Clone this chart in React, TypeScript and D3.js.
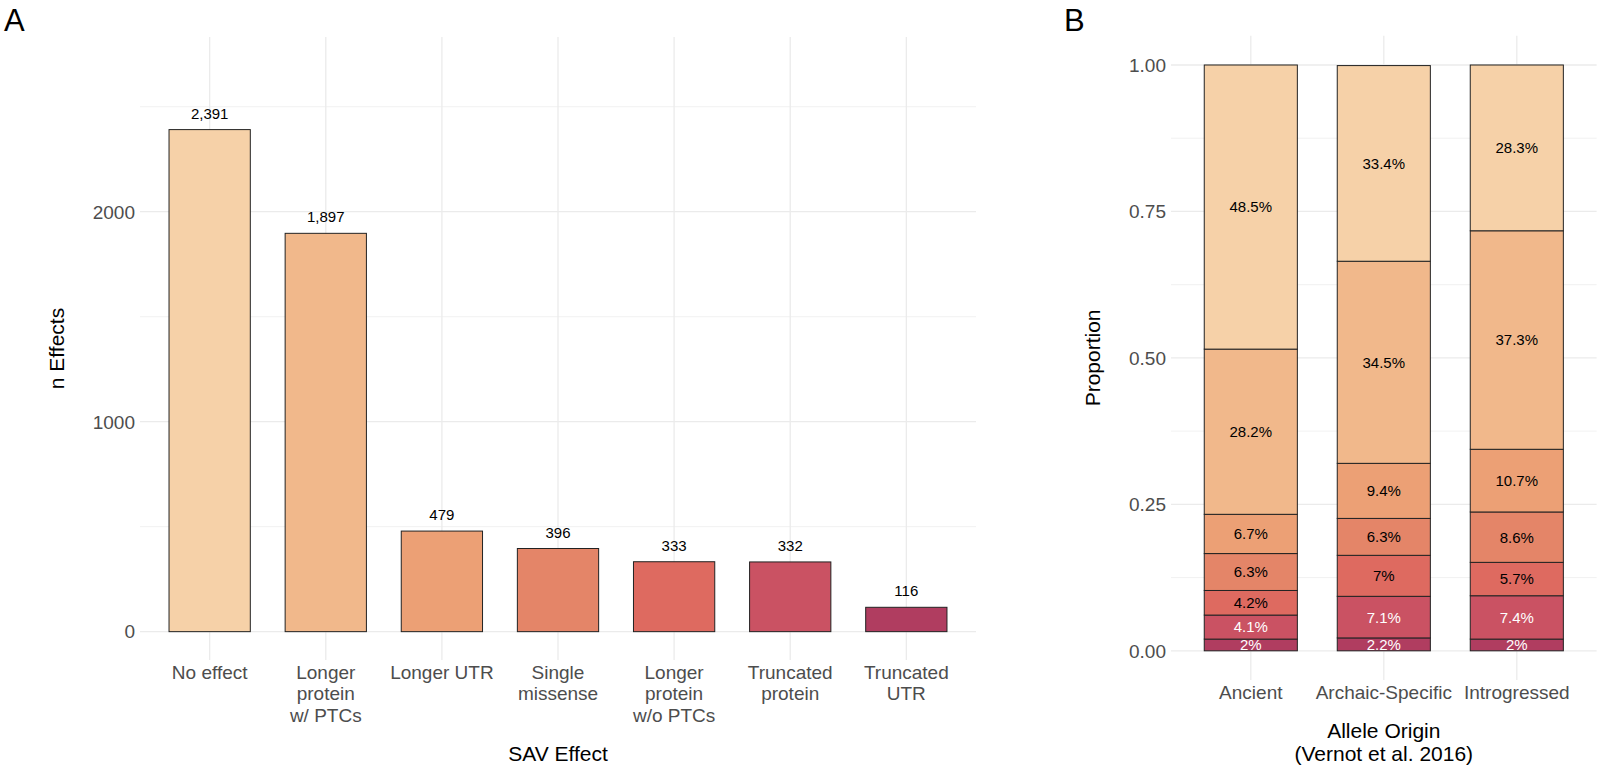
import React from "react";
import * as d3 from "d3";

// ---------- Data ----------
const effects = [
  "No effect",
  "Longer protein w/ PTCs",
  "Longer UTR",
  "Single missense",
  "Longer protein w/o PTCs",
  "Truncated protein",
  "Truncated UTR",
];
const effectLabelLines = [
  ["No effect"],
  ["Longer", "protein", "w/ PTCs"],
  ["Longer UTR"],
  ["Single", "missense"],
  ["Longer", "protein", "w/o PTCs"],
  ["Truncated", "protein"],
  ["Truncated", "UTR"],
];
const counts = [2391, 1897, 479, 396, 333, 332, 116];
const effectColors = ["#F6D1A8", "#F1B88B", "#ECA075", "#E48568", "#DE6A60", "#CA5263", "#B03D60"];
const whiteLabelEffects = ["Truncated protein", "Truncated UTR"];

const countTicks = [0, 1000, 2000];
const countMinorTicks = [500, 1500, 2500];

const origins = ["Ancient", "Archaic-Specific", "Introgressed"];
// percentages per effect, in the order of `effects`
const ancientPct = [48.5, 28.2, 6.7, 6.3, 4.2, 4.1, 2];
const archaicPct = [33.4, 34.5, 9.4, 6.3, 7, 7.1, 2.2];
const introgressedPct = [28.3, 37.3, 10.7, 8.6, 5.7, 7.4, 2];
const propTicks = [0, 0.25, 0.5, 0.75, 1];
const propTickLabels = ["0.00", "0.25", "0.50", "0.75", "1.00"];
const propMinorTicks = [0.125, 0.375, 0.625, 0.875];

const FONT = "'Liberation Sans', Arial, Helvetica, sans-serif";
const GRID = "#EBEBEB";
const TICK_TEXT = "#4D4D4D";

export default function App() {
  // ---------- Panel A ----------
  const ax = d3.scaleBand<string>().domain(effects).range([140, 976]).paddingInner(0.3).paddingOuter(0.25);
  const ay = d3.scaleLinear().domain([-135, 2832]).range([660, 37]);
  const fmt = d3.format(",");

  // ---------- Panel B ----------
  const bx = d3.scaleBand<string>().domain(origins).range([1171, 1596.6]).paddingInner(0.3).paddingOuter(0.25);
  const by = d3.scaleLinear().domain([-0.05, 1.05]).range([680.1, 35.7]);
  const pctSets = [ancientPct, archaicPct, introgressedPct];
  const rows = origins.map((o, i) => {
    const r: any = { origin: o };
    effects.forEach((e, j) => (r[e] = pctSets[i][j] / 100));
    return r;
  });
  const stackKeys = effects.slice().reverse();
  const series = d3.stack<any>().keys(stackKeys)(rows);

  const aTop = 37, aBot = 660, bTop = 35.7, bBot = 680.1;

  return (
    <svg
      width={1602}
      height={770}
      style={{ position: "absolute", left: 0, top: 0, background: "#fff" }}
      fontFamily={FONT}
    >
      <rect x={0} y={0} width={1602} height={770} fill="#fff" />
      {/* Panel tags */}
      <text x={4} y={31} fontSize={31} fill="#000">A</text>
      <text x={1064} y={31} fontSize={31} fill="#000">B</text>

      {/* ===== Panel A grid ===== */}
      <g>
        {countMinorTicks.map((t) => (
          <line key={"am" + t} x1={140} x2={976} y1={ay(t)} y2={ay(t)} stroke={GRID} strokeWidth={0.7} />
        ))}
        {countTicks.map((t) => (
          <line key={"aM" + t} x1={140} x2={976} y1={ay(t)} y2={ay(t)} stroke={GRID} strokeWidth={1.3} />
        ))}
        {effects.map((e) => (
          <line
            key={"av" + e}
            x1={ax(e)! + ax.bandwidth() / 2}
            x2={ax(e)! + ax.bandwidth() / 2}
            y1={aTop}
            y2={aBot}
            stroke={GRID}
            strokeWidth={1.3}
          />
        ))}
      </g>
      {/* Panel A bars */}
      <g>
        {effects.map((e, i) => (
          <rect
            key={"ab" + e}
            x={ax(e)}
            y={ay(counts[i])}
            width={ax.bandwidth()}
            height={ay(0) - ay(counts[i])}
            fill={effectColors[i]}
            stroke="#222"
            strokeWidth={1}
          />
        ))}
        {effects.map((e, i) => (
          <text
            key={"al" + e}
            x={ax(e)! + ax.bandwidth() / 2}
            y={ay(counts[i]) - 11}
            textAnchor="middle"
            fontSize={15}
            fill="#000"
          >
            {fmt(counts[i])}
          </text>
        ))}
      </g>
      {/* Panel A axes */}
      <g>
        {countTicks.map((t) => (
          <text key={"at" + t} x={135} y={ay(t)} dy="0.36em" textAnchor="end" fontSize={19} fill={TICK_TEXT}>
            {t}
          </text>
        ))}
        {effects.map((e, i) => (
          <text key={"ac" + e} x={ax(e)! + ax.bandwidth() / 2} y={678.5} textAnchor="middle" fontSize={19} fill={TICK_TEXT}>
            {effectLabelLines[i].map((ln, k) => (
              <tspan key={k} x={ax(e)! + ax.bandwidth() / 2} dy={k === 0 ? 0 : 21.7}>
                {ln}
              </tspan>
            ))}
          </text>
        ))}
        <text x={558} y={761} textAnchor="middle" fontSize={21} fill="#000">SAV Effect</text>
        <text
          transform={`translate(64, ${(aTop + aBot) / 2}) rotate(-90)`}
          textAnchor="middle"
          fontSize={21}
          fill="#000"
        >
          n Effects
        </text>
      </g>

      {/* ===== Panel B grid ===== */}
      <g>
        {propMinorTicks.map((t) => (
          <line key={"bm" + t} x1={1171} x2={1596.6} y1={by(t)} y2={by(t)} stroke={GRID} strokeWidth={0.7} />
        ))}
        {propTicks.map((t) => (
          <line key={"bM" + t} x1={1171} x2={1596.6} y1={by(t)} y2={by(t)} stroke={GRID} strokeWidth={1.3} />
        ))}
        {origins.map((o) => (
          <line
            key={"bv" + o}
            x1={bx(o)! + bx.bandwidth() / 2}
            x2={bx(o)! + bx.bandwidth() / 2}
            y1={bTop}
            y2={bBot}
            stroke={GRID}
            strokeWidth={1.3}
          />
        ))}
      </g>
      {/* Panel B stacked bars */}
      <g>
        {series.map((s) => {
          const ci = effects.indexOf(s.key);
          return (
            <g key={"bs" + s.key}>
              {s.map((d, i) => (
                <rect
                  key={i}
                  x={bx(d.data.origin)}
                  y={by(d[1])}
                  width={bx.bandwidth()}
                  height={by(d[0]) - by(d[1])}
                  fill={effectColors[ci]}
                  stroke="#222"
                  strokeWidth={1}
                />
              ))}
            </g>
          );
        })}
        {series.map((s) => {
          const white = whiteLabelEffects.includes(s.key);
          return (
            <g key={"bl" + s.key}>
              {s.map((d, i) => (
                <text
                  key={i}
                  x={bx(d.data.origin)! + bx.bandwidth() / 2}
                  y={by((d[0] + d[1]) / 2)}
                  dy="0.36em"
                  textAnchor="middle"
                  fontSize={15}
                  fill={white ? "#fff" : "#000"}
                >
                  {`${d3.format(".3~")(Math.round((d[1] - d[0]) * 1000) / 10)}%`}
                </text>
              ))}
            </g>
          );
        })}
      </g>
      {/* Panel B axes */}
      <g>
        {propTicks.map((t, i) => (
          <text key={"bt" + t} x={1166} y={by(t)} dy="0.36em" textAnchor="end" fontSize={19} fill={TICK_TEXT}>
            {propTickLabels[i]}
          </text>
        ))}
        {origins.map((o) => (
          <text key={"bc" + o} x={bx(o)! + bx.bandwidth() / 2} y={698.5} textAnchor="middle" fontSize={19} fill={TICK_TEXT}>
            {o}
          </text>
        ))}
        <text x={1383.8} y={738} textAnchor="middle" fontSize={21} fill="#000">
          <tspan x={1383.8} dy={0}>Allele Origin</tspan>
          <tspan x={1383.8} dy={23}>(Vernot et al. 2016)</tspan>
        </text>
        <text
          transform={`translate(1100, ${(bTop + bBot) / 2}) rotate(-90)`}
          textAnchor="middle"
          fontSize={21}
          fill="#000"
        >
          Proportion
        </text>
      </g>
    </svg>
  );
}
